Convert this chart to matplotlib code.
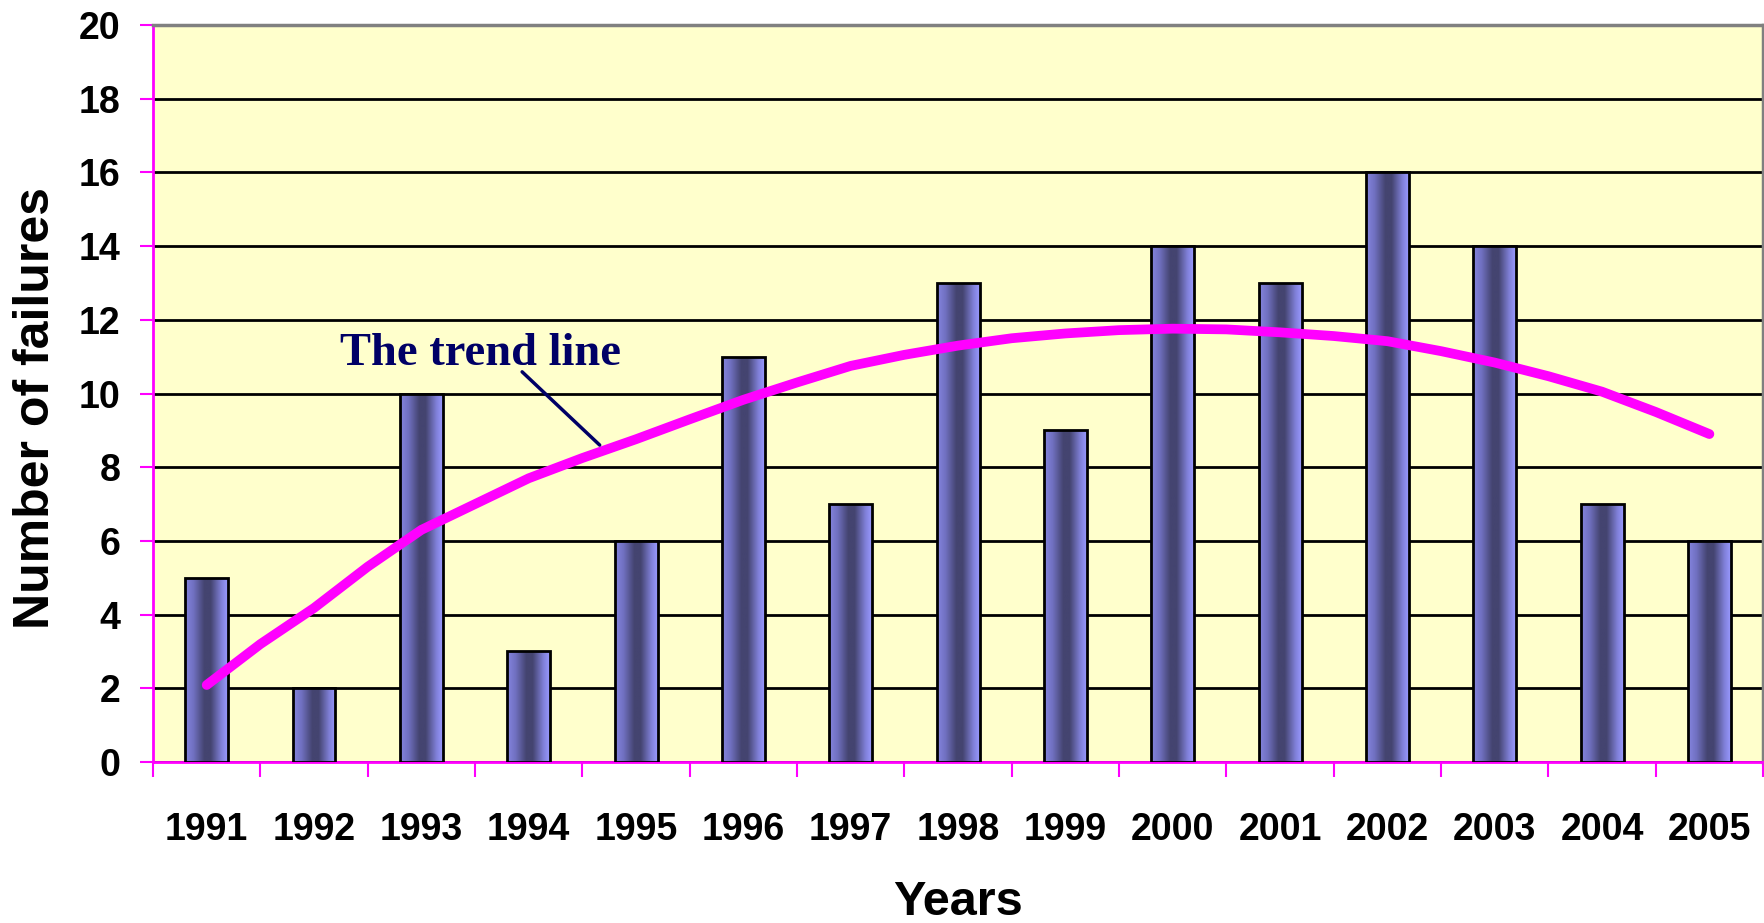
import numpy as np
import matplotlib
matplotlib.use("Agg")
import matplotlib.pyplot as plt
from matplotlib.colors import LinearSegmentedColormap

years = [1991, 1992, 1993, 1994, 1995, 1996, 1997, 1998, 1999, 2000,
         2001, 2002, 2003, 2004, 2005]
failures = [5, 2, 10, 3, 6, 11, 7, 13, 9, 14, 13, 16, 14, 7, 6]

trend_years = [1991, 1991.5, 1992, 1992.5, 1993, 1993.5, 1994, 1994.5,
               1995, 1995.5, 1996, 1996.5, 1997, 1997.5, 1998, 1998.5,
               1999, 1999.5, 2000, 2000.5, 2001, 2001.5, 2002, 2002.5,
               2003, 2003.5, 2004, 2004.5, 2005]
trend_values = [2.09, 3.2, 4.18, 5.3, 6.3, 7.0, 7.7, 8.25,
                8.76, 9.3, 9.83, 10.3, 10.75, 11.05, 11.3, 11.5,
                11.63, 11.72, 11.76, 11.74, 11.66, 11.56, 11.42, 11.15,
                10.84, 10.47, 10.05, 9.5, 8.9]

yticks = list(range(0, 21, 2))

fig = plt.figure(figsize=(17.65, 9.23), dpi=100)
ax = fig.add_axes([0.0867, 0.1744, 0.9122, 0.7985])
ax.set_facecolor("#FFFFCC")

x = np.arange(len(years))
bar_w = 0.4
bars = ax.bar(x, failures, width=bar_w, facecolor="none",
              edgecolor="black", linewidth=2.0, zorder=3)

cmap = LinearSegmentedColormap.from_list(
    "barg", [(0.0, "#8585E0"), (0.2, "#7070C0"), (0.45, "#444470"),
             (0.6, "#444470"), (0.85, "#8080D8"), (1.0, "#9999FF")])
grad = np.linspace(0, 1, 256).reshape(1, -1)
for xi, v, b in zip(x, failures, bars):
    im = ax.imshow(grad, cmap=cmap, aspect="auto",
                   extent=[xi - bar_w / 2, xi + bar_w / 2, 0, v],
                   zorder=2, interpolation="bilinear")
    im.set_clip_path(b)

tx = [t - years[0] for t in trend_years]
ax.plot(tx, trend_values, color="#FF00FF", linewidth=7,
        solid_capstyle="round", zorder=4)

ax.set_xlim(-0.5, len(years) - 0.5)
ax.set_ylim(0, 20)
ax.set_yticks(yticks)
ax.set_yticklabels([str(t) for t in yticks])
ax.set_xticks(x)
ax.set_xticklabels([str(y) for y in years])
ax.set_xticks(np.arange(-0.5, len(years), 1.0), minor=True)

ax.yaxis.grid(True, color="black", linewidth=2.0, zorder=1)
ax.set_axisbelow(True)

for sp in ["left", "bottom"]:
    ax.spines[sp].set_color("#FF00FF")
    ax.spines[sp].set_linewidth(2.0)
for sp in ["top", "right"]:
    ax.spines[sp].set_color("#808080")
    ax.spines[sp].set_linewidth(2.5)

ax.tick_params(axis="y", which="major", direction="out", length=9.5,
               width=1.5, color="#FF00FF", pad=14,
               labelsize=27, labelcolor="black")
ax.tick_params(axis="x", which="major", length=0, pad=36,
               labelsize=27, labelcolor="black")
ax.tick_params(axis="x", which="minor", direction="out", length=11,
               width=1.5, color="#FF00FF")
for lab in ax.get_xticklabels() + ax.get_yticklabels():
    lab.set_fontweight("bold")
    lab.set_family("Liberation Sans")

xl = ax.set_xlabel("Years", fontsize=35, fontweight="bold",
                   family="Liberation Sans")
xl.set_verticalalignment("baseline")
ax.xaxis.set_label_coords(0.5, -0.207)
yl = ax.set_ylabel("Number of failures", fontsize=36, fontweight="bold",
                   family="Liberation Sans")
yl.set_verticalalignment("center")
yl.set_horizontalalignment("center")
ax.yaxis.set_label_coords(-0.0725, 0.48)

ax.annotate("", xy=(3.68, 8.55), xytext=(2.92, 10.64),
            arrowprops=dict(arrowstyle="-", color="#000066", lw=2.5),
            zorder=5)
ax.text(1.24, 10.77, "The trend line", family="Liberation Serif",
        fontweight="bold", fontsize=33.5, color="#000066",
        ha="left", va="baseline", zorder=5)

fig.savefig("out.png", dpi=100)
